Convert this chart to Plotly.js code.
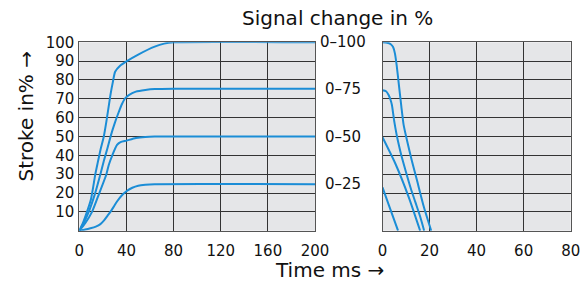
<!DOCTYPE html>
<html>
<head>
<meta charset="utf-8">
<script src="https://cdn.plot.ly/plotly-3.0.1.min.js"></script>
<style>html,body{margin:0;padding:0;background:#fff;}#chart{width:580px;height:284px;}</style>
</head>
<body>
<div id="chart"></div>
<script>
// ---- data ----
// Left panel: stroke rise (ms vs %)
const riseT100 = [0, 3, 6.5, 10, 13.6, 15.6, 18, 20.8, 23, 26.4, 28.5, 30.4, 34.6, 40, 50, 64, 72, 80, 200];
const riseY100 = [0, 4, 10, 17, 30, 36, 43, 50, 58, 72, 79, 84.4, 87.6, 89.9, 93.5, 97.7, 99.3, 100, 100];
const riseT75 = [0, 4, 8, 13, 17.9, 20.8, 24, 27, 30, 33.5, 36, 38.9, 42, 48, 56, 64, 80, 200];
const riseY75 = [0, 4.5, 10, 19, 30, 37, 44, 51, 57, 63, 67, 70.3, 72, 73.8, 74.7, 75.2, 75.4, 75.4];
const riseT50 = [0, 5, 10.8, 17, 23, 25, 28, 32, 35, 40, 48, 56, 64, 200];
const riseY50 = [0, 4, 10, 20, 30, 34.9, 40, 45.5, 47, 47.8, 49.2, 49.8, 50, 50];
const riseT25 = [0, 5, 9.4, 14, 17.9, 21, 24, 26.4, 29, 32, 36, 40, 45, 50, 56, 64, 200];
const riseY25 = [0, 0.6, 1.3, 2.2, 3.5, 5.5, 8, 10, 12.5, 15.5, 18.7, 20.9, 22.8, 23.9, 24.4, 24.7, 24.7];
// Right panel: stroke fall
const fallT100 = [0, 2, 3.5, 4.5, 5.3, 6, 7, 8, 9, 10.4, 12.5, 14.6, 17.5, 20.7];
const fallY100 = [100, 99.8, 99, 97.5, 94, 88, 77, 66, 56, 48, 37, 27, 13, 0];
const fallT75 = [0, 1.5, 2.6, 3.4, 4, 5, 6, 6.5, 8, 10, 12, 14, 16, 17.7];
const fallY75 = [74.5, 74, 72, 69.5, 66.7, 58, 51, 48, 40, 31, 22.5, 15, 7.5, 0];
const fallT50 = [0, 5.4, 11.1, 16];
const fallY50 = [49.6, 35.8, 18, 0];
const fallT25 = [0, 3, 6.6];
const fallY25 = [23, 12.5, 0];
// labels / ticks
const signalLabels = ['0\u2013100', '0\u201375', '0\u201350', '0\u201325'];
const signalLabelY = [100, 75, 50, 25];
const leftXTicks = [0, 40, 80, 120, 160, 200];
const rightXTicks = [0, 20, 40, 60, 80];
const yTicks = [10, 20, 30, 40, 50, 60, 70, 80, 90, 100];
const yGrid = [0, 10, 20, 30, 40, 50, 60, 70, 80, 90, 100];

// ---- drawing ----
const W = 580, H = 284;
const px = v => v / W, py = v => (H - v) / H;
const BLUE = '#1b8dd6';
const FONT = 'DejaVu Sans';
const line = {color: BLUE, width: 2, shape: 'spline', smoothing: 0.6};

function tr(x, y, xa, ya) {
  return {x: x, y: y, xaxis: xa, yaxis: ya, type: 'scatter', mode: 'lines', line: line, hoverinfo: 'skip', showlegend: false};
}
const data = [
  tr(riseT100, riseY100, 'x', 'y'), tr(riseT75, riseY75, 'x', 'y'),
  tr(riseT50, riseY50, 'x', 'y'), tr(riseT25, riseY25, 'x', 'y'),
  tr(fallT100, fallY100, 'x2', 'y2'), tr(fallT75, fallY75, 'x2', 'y2'),
  tr(fallT50, fallY50, 'x2', 'y2'), tr(fallT25, fallY25, 'x2', 'y2')
];

const GRID = '#333333';
const tickFont = {family: FONT, size: 15, color: '#111'};
const axBase = {showgrid: true, gridcolor: GRID, gridwidth: 1, showline: true, linecolor: '#555', linewidth: 1,
  mirror: true, zeroline: false, ticks: '', fixedrange: true, tickfont: tickFont, ticklabeloverflow: 'allow'};

const dom = [py(230.7), py(42.3)];
const layout = {
  width: W, height: H,
  margin: {l: 0, r: 0, t: 0, b: 0},
  paper_bgcolor: '#fff', plot_bgcolor: '#e5e6e8',
  showlegend: false,
  xaxis: Object.assign({}, axBase, {domain: [px(79.3), px(315)], range: [0, 200], tickvals: leftXTicks, anchor: 'y', ticklabelstandoff: 6}),
  yaxis: Object.assign({}, axBase, {domain: dom, range: [0, 100], tickvals: yTicks, anchor: 'x', ticklabelstandoff: 1}),
  xaxis2: Object.assign({}, axBase, {domain: [px(382.5), px(570.7)], range: [0, 80], tickvals: rightXTicks, anchor: 'y2', ticklabelstandoff: 6}),
  yaxis2: Object.assign({}, axBase, {domain: dom, range: [0, 100], tickvals: yGrid, showticklabels: false, anchor: 'x2'}),
  annotations: [
    {text: 'Signal change in %', xref: 'paper', yref: 'paper', x: px(337), y: py(18), xanchor: 'center', yanchor: 'middle',
     showarrow: false, font: {family: FONT, size: 20, color: '#111'}},
    {text: 'Time ms \u2192', xref: 'paper', yref: 'paper', x: px(329), y: py(270), xanchor: 'center', yanchor: 'middle',
     showarrow: false, font: {family: FONT, size: 20, color: '#111'}},
    {text: 'Stroke in% \u2192', xref: 'paper', yref: 'paper', x: px(26), y: py(116.5), xanchor: 'center', yanchor: 'middle',
     textangle: -90, showarrow: false, font: {family: FONT, size: 20, color: '#111'}}
  ].concat(signalLabels.map((t, i) => ({
    text: t, xref: 'paper', yref: 'y', x: px(343), y: signalLabelY[i], xanchor: 'center', yanchor: 'middle',
    showarrow: false, font: {family: FONT, size: 15, color: '#111'}
  })))
};

Plotly.newPlot('chart', data, layout, {staticPlot: true, displayModeBar: false});
</script>
</body>
</html>
